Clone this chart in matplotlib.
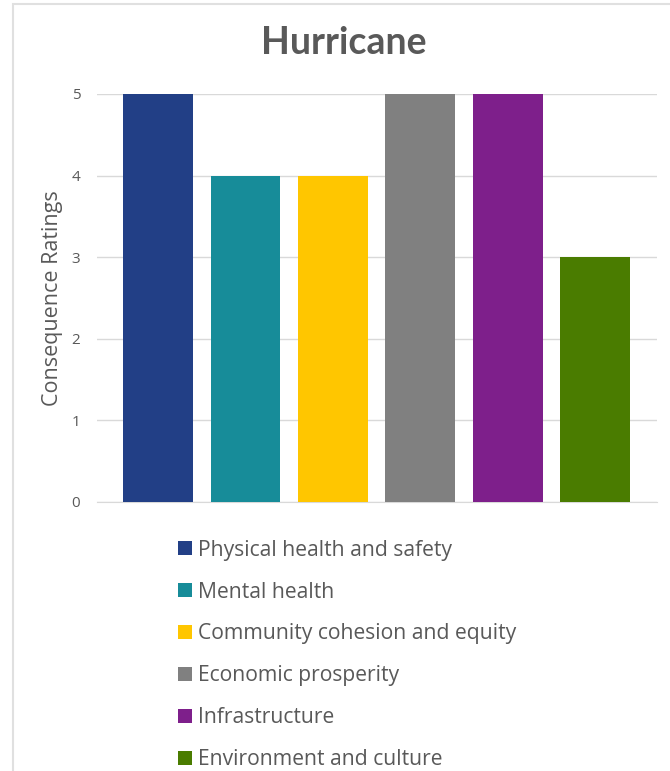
import matplotlib.pyplot as plt
from matplotlib.patches import Rectangle, Patch

categories = ['Physical health and safety', 'Mental health', 'Community cohesion and equity',
              'Economic prosperity', 'Infrastructure', 'Environment and culture']
ratings = [5, 4, 4, 5, 5, 3]
colors = ['#223F86', '#178C99', '#FFC600', '#808080', '#7E1F8B', '#4A7C00']
y_ticks = [0, 1, 2, 3, 4, 5]

plt.rcParams['font.family'] = ['Open Sans', 'DejaVu Sans']
txt = '#595959'

fig = plt.figure(figsize=(6.7, 7.71), dpi=100)
ax = fig.add_axes([0.1448, 0.3489, 0.8358, 0.5292])

x = list(range(len(categories)))
ax.bar(x, ratings, width=0.8, color=colors, zorder=3)

ax.set_xlim(-0.70, 5.71)
ax.set_ylim(0, 5)
ax.set_yticks(y_ticks)
ax.set_xticks([])
ax.grid(axis='y', color='#D9D9D9', linewidth=1, zorder=0)
for s in ['top', 'right', 'left']:
    ax.spines[s].set_visible(False)
ax.spines['bottom'].set_color('#D9D9D9')
ax.tick_params(axis='y', length=0, pad=12, labelsize=11, labelcolor=txt)
ax.set_ylabel('Consequence Ratings', fontsize=15.5, color=txt, labelpad=6)

fig.text(0.513, 0.944, 'Hurricane', ha='center', va='center', fontsize=27,
         fontweight='bold', color=txt, family=['Lato', 'DejaVu Sans'])

handles = [Patch(facecolor=c, edgecolor='none') for c in colors]
fig.legend(handles, categories, loc='upper left', bbox_to_anchor=(0.253, 0.311),
           frameon=False, fontsize=15.2, labelcolor=txt, handlelength=0.65,
           handleheight=0.65, handletextpad=0.3, labelspacing=0.99, borderaxespad=0)

# chart frame (cut off at right and bottom)
fig.patches.append(Rectangle((13 / 670, -0.1), 1.2, 1 - 4 / 771 + 0.1,
                             transform=fig.transFigure, fill=False,
                             edgecolor='#E0E0E0', linewidth=1.5))

fig.savefig('out.png', dpi=100)
